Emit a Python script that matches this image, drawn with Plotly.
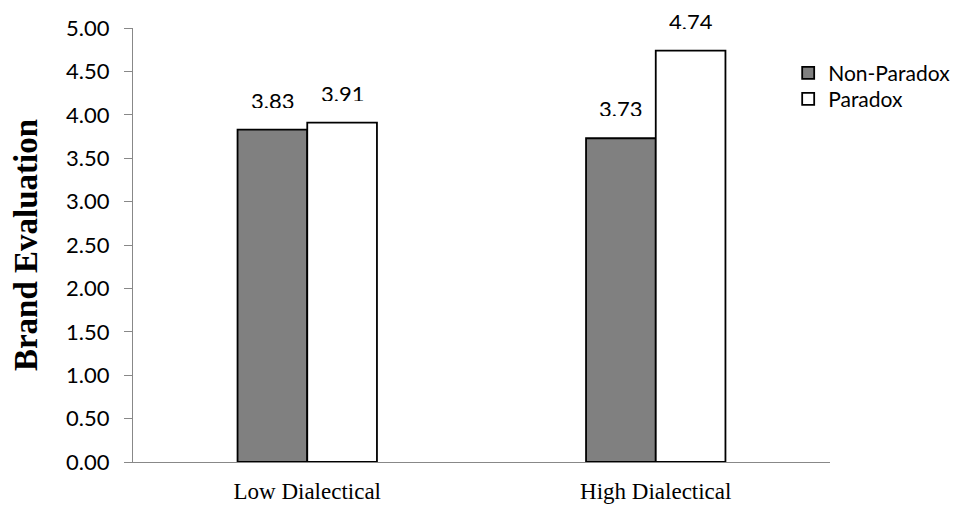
import plotly.graph_objects as go

categories = ["Low Dialectical", "High Dialectical"]
non_paradox = [3.83, 3.73]
paradox = [3.91, 4.74]
y_ticks = [0, 0.5, 1.0, 1.5, 2.0, 2.5, 3.0, 3.5, 4.0, 4.5, 5.0]

SANS = "Lato, Open Sans, sans-serif"
SERIF = "Liberation Serif, Times New Roman, serif"

fig = go.Figure()
fig.add_trace(go.Bar(name="Non-Paradox", x=categories, y=non_paradox, legend="legend",
                     marker=dict(color="#808080", line=dict(color="black", width=1.8))))
fig.add_trace(go.Bar(name="Paradox", x=categories, y=paradox, legend="legend2",
                     marker=dict(color="white", line=dict(color="black", width=1.8))))

for i, c in enumerate(categories):
    for vals, shift in ((non_paradox, -35), (paradox, 35)):
        fig.add_annotation(x=c, y=vals[i], xref="x", yref="y", text=f"{vals[i]:.2f}",
                           showarrow=False, xshift=shift, yshift=30,
                           height=16, borderpad=0, valign="middle",
                           font=dict(family=SANS, size=22, color="black"))

leg_common = dict(xanchor="left", yanchor="middle", itemwidth=30,
                  font=dict(family=SANS, size=21, color="black"),
                  bgcolor="rgba(0,0,0,0)")

fig.update_layout(
    width=962, height=510,
    margin=dict(l=125, r=140, t=20, b=56),
    plot_bgcolor="white", paper_bgcolor="white",
    barmode="group", bargap=0.6, bargroupgap=0,
    showlegend=True,
    legend=dict(x=0.94, y=0.896, **leg_common),
    legend2=dict(x=0.94, y=0.836, **leg_common),
    yaxis=dict(range=[0, 5], tickvals=y_ticks, tickformat=".2f", automargin=False,
               showline=True, linecolor="#888888", linewidth=1,
               ticks="outside", ticklen=8, tickcolor="#888888", ticklabelstandoff=10,
               showgrid=False, zeroline=False,
               tickfont=dict(family=SANS, size=22, color="black"),
               title=dict(text="<b>Brand Evaluation</b>", standoff=27,
                          font=dict(family=SERIF, size=33, color="black"))),
    xaxis=dict(showline=True, linecolor="#888888", linewidth=1, ticks="", automargin=False,
               ticklabelstandoff=8,
               tickfont=dict(family=SERIF, size=23, color="black")),
)

fig.write_html("out.html")
